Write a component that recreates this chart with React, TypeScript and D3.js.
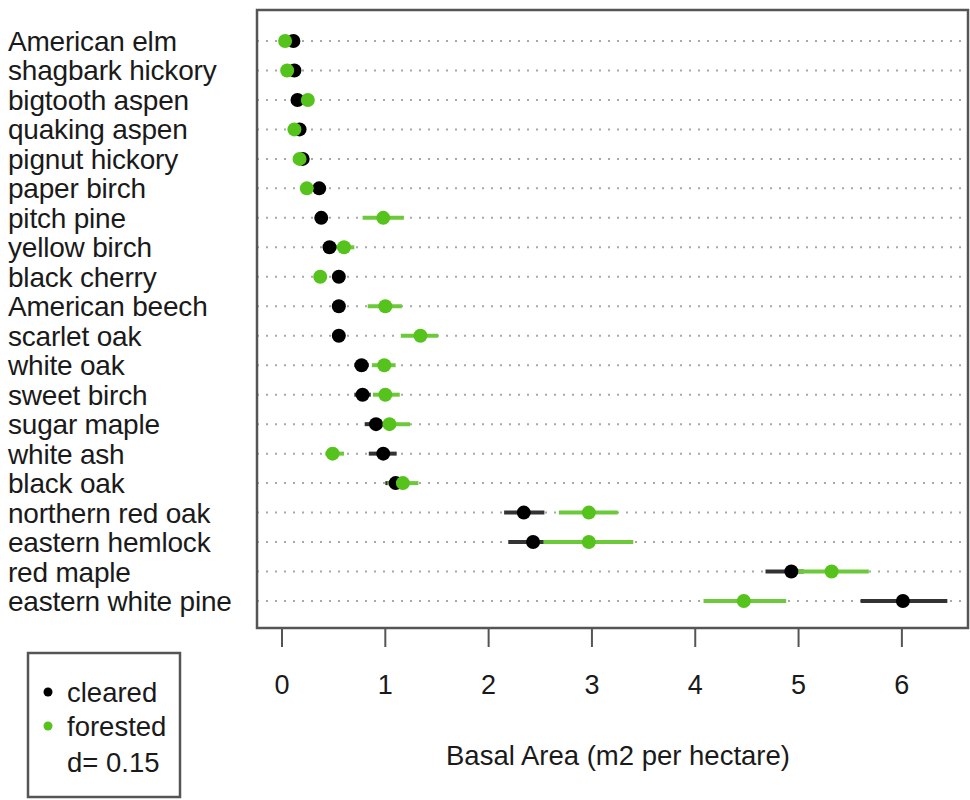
import React from 'react';
import * as d3 from 'd3';

// species, top to bottom
const species = [
  'American elm', 'shagbark hickory', 'bigtooth aspen', 'quaking aspen', 'pignut hickory',
  'paper birch', 'pitch pine', 'yellow birch', 'black cherry', 'American beech',
  'scarlet oak', 'white oak', 'sweet birch', 'sugar maple', 'white ash',
  'black oak', 'northern red oak', 'eastern hemlock', 'red maple', 'eastern white pine',
];

// basal area (m2 per hectare) with interval ends
const cleared = [0.11, 0.12, 0.15, 0.17, 0.2, 0.36, 0.38, 0.46, 0.55, 0.55, 0.55, 0.77, 0.78, 0.91, 0.98, 1.1, 2.34, 2.43, 4.93, 6.01];
const clearedLo = [0.08, 0.09, 0.12, 0.14, 0.17, 0.32, 0.33, 0.41, 0.5, 0.49, 0.49, 0.7, 0.7, 0.8, 0.84, 1.0, 2.15, 2.19, 4.68, 5.6];
const clearedHi = [0.14, 0.15, 0.18, 0.2, 0.23, 0.4, 0.43, 0.51, 0.6, 0.61, 0.61, 0.84, 0.86, 1.03, 1.11, 1.2, 2.54, 2.6, 5.05, 6.44];

const forested = [0.03, 0.05, 0.25, 0.12, 0.17, 0.24, 0.98, 0.6, 0.37, 1.0, 1.34, 0.99, 1.0, 1.04, 0.49, 1.17, 2.97, 2.97, 5.32, 4.47];
const forestedLo = [0.0, 0.02, 0.2, 0.09, 0.14, 0.2, 0.78, 0.5, 0.32, 0.83, 1.15, 0.87, 0.88, 0.9, 0.42, 1.02, 2.68, 2.53, 4.95, 4.08];
const forestedHi = [0.06, 0.08, 0.3, 0.15, 0.2, 0.28, 1.18, 0.7, 0.42, 1.16, 1.51, 1.1, 1.14, 1.24, 0.6, 1.32, 3.25, 3.4, 5.68, 4.88];

const xTicks = [0, 1, 2, 3, 4, 5, 6];
const legendItems = ['cleared', 'forested'];
const legendNote = 'd= 0.15';
const xTitle = 'Basal Area (m2 per hectare)';

const GREEN = '#56c21c';
const FONT = '"Liberation Sans", Arial, Helvetica, sans-serif';

const box = { left: 257, right: 968, top: 10, bottom: 628 };

export default function App() {
  const x = d3.scaleLinear().domain([-0.242, 6.64]).range([box.left, box.right]);
  const y = d3.scalePoint<string>().domain(species).range([41, 601]);

  const series = [
    { key: 'cleared', vals: cleared, lo: clearedLo, hi: clearedHi, dot: '#000', bar: '#333' },
    { key: 'forested', vals: forested, lo: forestedLo, hi: forestedHi, dot: GREEN, bar: '#6cc93a' },
  ];

  return (
    <svg width={970} height={800} style={{ position: 'absolute', left: 0, top: 0, background: '#fff' }}
      fontFamily={FONT}>
      {/* dotted row guides */}
      {species.map(s => (
        <line key={'g' + s} x1={box.left} x2={box.right} y1={y(s)} y2={y(s)}
          stroke="#a8a8a8" strokeWidth={2} strokeDasharray="2 7" />
      ))}

      {/* intervals */}
      {series.map(sr => species.map((s, i) => (
        <line key={sr.key + 'ci' + i} x1={x(sr.lo[i])} x2={x(sr.hi[i])} y1={y(s)} y2={y(s)}
          stroke={sr.bar} strokeWidth={4} />
      )))}

      {/* points */}
      {series.map(sr => species.map((s, i) => (
        <circle key={sr.key + 'pt' + i} cx={x(sr.vals[i])} cy={y(s)} r={7} fill={sr.dot} />
      )))}

      {/* species labels */}
      {species.map(s => (
        <text key={'l' + s} x={8} y={(y(s) as number) + 10} fontSize={28} fill="#1a1a1a"
          letterSpacing={-0.2}>{s}</text>
      ))}

      {/* plot frame */}
      <rect x={box.left} y={box.top} width={box.right - box.left} height={box.bottom - box.top}
        fill="none" stroke="#555" strokeWidth={2.5} />

      {/* x axis */}
      {xTicks.map(t => (
        <g key={'t' + t}>
          <line x1={x(t)} x2={x(t)} y1={box.bottom} y2={box.bottom + 19} stroke="#555" strokeWidth={2} />
          <text x={x(t)} y={694} textAnchor="middle" fontSize={27} fill="#1a1a1a">{t}</text>
        </g>
      ))}
      <text x={618} y={765} textAnchor="middle" fontSize={27.5} fill="#1a1a1a">{xTitle}</text>

      {/* legend */}
      <rect x={28} y={653} width={152} height={144} fill="none" stroke="#555" strokeWidth={2.5} />
      {legendItems.map((k, i) => (
        <g key={'lg' + k}>
          <circle cx={48} cy={692 + i * 34} r={4.5} fill={series[i].dot} />
          <text x={67} y={702 + i * 34} fontSize={27.5} fill="#1a1a1a">{k}</text>
        </g>
      ))}
      <text x={67} y={772} fontSize={27.5} fill="#1a1a1a">{legendNote}</text>
    </svg>
  );
}
